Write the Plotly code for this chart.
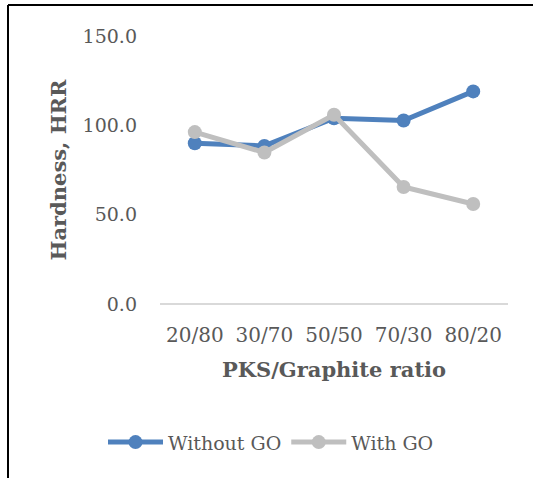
import plotly.graph_objects as go

# Hardness of composites for each PKS/Graphite ratio
ratios = ["20/80", "30/70", "50/50", "70/30", "80/20"]
without_go = [90.0, 88.5, 104.0, 102.7, 119.0]
with_go = [96.2, 84.8, 105.9, 65.5, 56.0]
y_ticks = [0, 50, 100, 150]

W, H = 533, 478
L, R, T, B = 160, 25, 36, 173.5

font_family = "DejaVu Serif"
text_col = "#595959"

fig = go.Figure()
fig.add_trace(go.Scatter(
    x=ratios, y=without_go, name="Without GO", mode="lines+markers",
    line=dict(color="#4F81BD", width=5),
    marker=dict(color="#4F81BD", size=14, symbol="circle"),
))
fig.add_trace(go.Scatter(
    x=ratios, y=with_go, name="With GO", mode="lines+markers",
    line=dict(color="#BFBFBF", width=5),
    marker=dict(color="#BFBFBF", size=14, symbol="circle"),
))

# Outer frame: top and left edges
pw = W - L - R
ph = H - T - B
def px_x(px):
    return (px - L) / pw
def px_y(py):
    return (H - B - py) / ph

fig.add_shape(type="line", xref="paper", yref="paper",
              x0=px_x(8), x1=px_x(540), y0=px_y(5), y1=px_y(5),
              line=dict(color="black", width=2))
fig.add_shape(type="line", xref="paper", yref="paper",
              x0=px_x(8), x1=px_x(8), y0=px_y(5), y1=px_y(485),
              line=dict(color="black", width=2))

fig.update_layout(
    width=W, height=H,
    margin=dict(l=L, r=R, t=T, b=B),
    paper_bgcolor="white", plot_bgcolor="white",
    font=dict(family=font_family, size=19, color=text_col),
    showlegend=True,
    legend=dict(orientation="h", x=px_x(271), xanchor="center",
                y=px_y(443), yanchor="middle",
                font=dict(family=font_family, size=19, color=text_col),
                itemwidth=55, tracegroupgap=0),
    xaxis=dict(
        type="category", range=[-0.5, 4.5],
        showgrid=False, zeroline=False, showline=False,
        ticks="", ticklabelstandoff=17,
        tickfont=dict(family=font_family, size=20, color=text_col),
        title=dict(text="<b>PKS/Graphite ratio</b>", standoff=16,
                   font=dict(family=font_family, size=21, color=text_col)),
    ),
    yaxis=dict(
        range=[0, 150], tickvals=y_ticks, tickformat=".1f",
        showgrid=False, zeroline=True, zerolinecolor="#D9D9D9", zerolinewidth=2,
        showline=False, ticks="", ticklabelstandoff=22,
        tickfont=dict(family=font_family, size=19, color=text_col),
        title=dict(text="<b>Hardness, HRR</b>", standoff=10,
                   font=dict(family=font_family, size=21, color=text_col)),
    ),
)

fig.write_html("out.html")
